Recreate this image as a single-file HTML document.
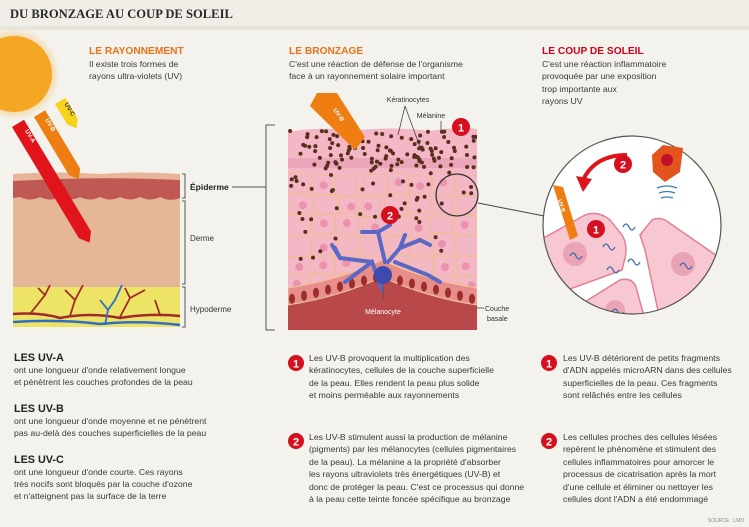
<!DOCTYPE html>
<html><head><meta charset="utf-8"><style>
body{margin:0;background:#f4f2ec;}
svg{display:block;font-family:"Liberation Sans",sans-serif;}
.h{font-weight:bold;font-size:10.2px;}
.t{font-size:8.7px;fill:#3a3a3a}
.b{font-weight:bold;font-size:10.8px;fill:#222}
.s{font-size:8px;fill:#333}
</style></head><body>
<svg id="s" width="749" height="527" viewBox="0 0 749 527" xmlns="http://www.w3.org/2000/svg">
<defs>
<radialGradient id="sun" cx="0.5" cy="0.5" r="0.5"><stop offset="0.7" stop-color="#f5a623"/><stop offset="1" stop-color="#f5a623" stop-opacity="0"/></radialGradient>
<clipPath id="cp"><rect x="288" y="120" width="189" height="210"/></clipPath>
<clipPath id="cc"><circle cx="632" cy="225" r="89"/></clipPath>
</defs>
<rect width="749" height="527" fill="#f4f2ec"/>
<rect width="749" height="28" fill="#f1eee7"/>
<rect y="26" width="749" height="4" fill="#e8e5dd"/>
<text x="10" y="18" font-family="Liberation Serif,serif" font-weight="bold" font-size="12.6" fill="#2a2a2a">DU BRONZAGE AU COUP DE SOLEIL</text>

<circle cx="14" cy="74" r="46" fill="url(#sun)" opacity="0.5"/>
<circle cx="14" cy="74" r="38" fill="#f5a623"/>

<text x="89" y="54" class="h" fill="#e8731a">LE RAYONNEMENT</text>
<text x="89" y="67" class="t">Il existe trois formes de</text>
<text x="89" y="79" class="t">rayons ultra-violets (UV)</text>

<rect x="13" y="285" width="167" height="42" fill="#ede365"/>
<rect x="13" y="195" width="167" height="92" fill="#e6b796"/>
<path d="M13 178 L180 178 L180 198 Q170 202 160 197 Q150 202 140 197 Q130 202 120 197 Q110 202 100 197 Q90 202 80 197 Q70 202 60 197 Q50 202 40 197 Q30 202 20 197 L13 198Z" fill="#c05853"/>
<path d="M13 174 Q60 171 100 174 Q140 171 180 174 L180 180 Q100 176 13 181Z" fill="#e9b59a"/>
<path d="M13 314 Q40 312 60 318 Q90 312 120 318 Q150 313 180 316" stroke="#a02a2a" stroke-width="2.5" fill="none"/>
<path d="M13 322 Q60 319 100 324 Q140 320 180 325" stroke="#2e6fc4" stroke-width="2.5" fill="none"/>
<path d="M30 314 L45 295 L50 285 M45 295 L38 288 M70 316 L75 300 L65 290 M75 300 L83 285 M120 317 L130 298 L145 290 M130 298 L125 288 M160 315 L155 300" stroke="#a02a2a" stroke-width="1.8" fill="none"/>
<path d="M105 325 L108 310 L115 300 L122 285 M108 310 L100 300" stroke="#2e6fc4" stroke-width="1.8" fill="none"/>
<g transform="translate(12,127) rotate(-31)"><path d="M0 0 L14 0 L14 130 L7 139 L0 130Z" fill="#e1141b"/><text x="9" y="10" transform="rotate(90 9 10)" font-size="6" font-weight="bold" fill="#fff">UV-A</text></g>
<g transform="translate(34,117) rotate(-31)"><path d="M0 0 L13 0 L13 68 L6.5 76 L0 68Z" fill="#ee7d12"/><text x="8" y="8" transform="rotate(90 8 8)" font-size="6" font-weight="bold" fill="#fff">UV-B</text></g>
<g transform="translate(55,104) rotate(-31)"><path d="M0 0 L12 0 L12 24 L6 32 L0 24Z" fill="#f7d21d"/><text x="8" y="5" transform="rotate(90 8 5)" font-size="6" font-weight="bold" fill="#333">UV-C</text></g>
<g stroke="#555" stroke-width="1" fill="none">
<path d="M182 174 L185 174 L185 198 L182 198"/>
<path d="M182 201 L185 201 L185 284 L182 284"/>
<path d="M182 287 L185 287 L185 327 L182 327"/>
<path d="M232 187 L266 187"/>
<path d="M275 125 L266 125 L266 330 L275 330"/>
</g>
<text x="190" y="190" font-size="8.5" font-weight="bold" fill="#222">Épiderme</text>
<text x="190" y="241" class="s">Derme</text>
<text x="190" y="312" class="s">Hypoderme</text>

<text x="289" y="54" class="h" fill="#e8731a">LE BRONZAGE</text>
<text x="289" y="67" class="t">C'est une réaction de défense de l'organisme</text>
<text x="289" y="79" class="t">face à un rayonnement solaire important</text>
<g clip-path="url(#cp)">
<path d="M288 132 Q320 126 350 131 Q390 126 430 131 Q460 126 477 129 L477 330 L288 330Z" fill="#f3b7c5"/>
<rect x="288" y="158" width="189" height="10" fill="#e79bb0" opacity="0.6"/>
<g id="cells" stroke="#eebd8f" stroke-width="0.8" fill="none"></g>
<g id="dots"></g>
<path d="M288 300 Q340 292 382 272 Q425 292 477 300 L477 330 L288 330Z" fill="#b8484a"/>
<path d="M288 288 Q340 280 382 260 Q425 280 477 288 L477 305 Q425 297 382 277 Q340 297 288 305Z" fill="#e78d8a" stroke="#f3c39a" stroke-width="1"/>
<g id="basal"></g>
<path d="M382 290 L372 262 L345 282 M372 262 L340 258 L332 245 M340 258 L335 248 M385 262 L378 232 L390 225 L392 215 M378 232 L362 232 M388 262 L400 248 L420 240 L430 245 M400 248 L405 235 M395 262 L428 275 L440 282" stroke="#5b67c4" stroke-width="4" fill="none" stroke-linecap="round"/>
<circle cx="383" cy="275" r="9" fill="#3d4bb0"/>
<line x1="383" y1="284" x2="383" y2="300" stroke="#555" stroke-width="0.8"/>
</g>
<path d="M317 93 L337 93 L365 137 L355 150 L310 106Z" fill="#ee7d12"/>
<text x="333" y="110" font-size="6" font-weight="bold" fill="#fff" transform="rotate(55 333 110)">UV-B</text>
<text x="408" y="102" font-size="7" fill="#333" text-anchor="middle">Kératinocytes</text>
<text x="431" y="118" font-size="7" fill="#333" text-anchor="middle">Mélanine</text>
<path d="M405 106 L398 135 M405 106 L420 147 M441 121 L441 132" stroke="#333" stroke-width="0.7" fill="none"/>
<circle cx="461" cy="127" r="9" fill="#d60f1f"/><text x="461" y="131.5" font-size="11" font-weight="bold" fill="#fff" text-anchor="middle">1</text>
<circle cx="390" cy="215" r="9" fill="#d60f1f"/><text x="390" y="219.5" font-size="11" font-weight="bold" fill="#fff" text-anchor="middle">2</text>
<text x="383" y="314" font-size="7" fill="#fff" text-anchor="middle">Mélanocyte</text>
<text x="485" y="311" font-size="7" fill="#333">Couche</text>
<text x="487" y="321" font-size="7" fill="#333">basale</text>
<line x1="477" y1="308" x2="484" y2="308" stroke="#333" stroke-width="0.7"/>
<circle cx="457" cy="195" r="21" fill="none" stroke="#333" stroke-width="1.3"/>
<line x1="478" y1="203" x2="544" y2="216" stroke="#444" stroke-width="1"/>

<text x="542" y="54" class="h" fill="#d0021b">LE COUP DE SOLEIL</text>
<text x="542" y="67" class="t">C'est une réaction inflammatoire</text>
<text x="542" y="79" class="t">provoquée par une exposition</text>
<text x="542" y="92" class="t">trop importante aux</text>
<text x="542" y="104" class="t">rayons UV</text>
<circle cx="632" cy="225" r="89" fill="#fff"/>
<g clip-path="url(#cc)">
<path d="M540 240 L585 215 Q598 210 610 220 L622 235 Q628 245 625 258 L622 270 L540 300Z" fill="#f7c8d1" stroke="#e57f92" stroke-width="1.5"/>
<path d="M640 235 L652 220 Q660 216 668 222 L720 258 L725 320 L660 320 L645 250Z" fill="#f7c8d1" stroke="#e57f92" stroke-width="1.5"/>
<path d="M580 305 L620 280 Q632 277 636 287 L645 320 L580 320Z" fill="#f7c8d1" stroke="#e57f92" stroke-width="1.5"/>
<circle cx="575" cy="254" r="12" fill="#eaa3b4"/>
<circle cx="683" cy="264" r="12" fill="#eaa3b4"/>
<circle cx="615" cy="310" r="10" fill="#eaa3b4"/>
<g stroke="#3b6cb0" stroke-width="1.3" fill="none">
<path d="M570 256 q3 -6 6 0 q3 6 6 0"/><path d="M603 247 q3 -6 6 0 q3 6 6 0"/><path d="M623 227 q3 -6 6 0 q3 6 6 0"/><path d="M628 262 q3 -6 6 0 q3 6 6 0"/><path d="M607 270 q3 -6 6 0 q3 6 6 0"/><path d="M680 266 q3 -6 6 0 q3 6 6 0"/><path d="M612 312 q3 -6 6 0 q3 6 6 0"/>
</g>
</g>
<circle cx="632" cy="225" r="89" fill="none" stroke="#555" stroke-width="1.2"/>
<path d="M553 185 L563 187 L578 236 L570 240Z" fill="#ee7d12"/>
<text x="558" y="200" font-size="5.5" font-weight="bold" fill="#fff" transform="rotate(72 558 200)">UV-B</text>
<path d="M627 155 Q595 155 583 180" stroke="#e0141b" stroke-width="4" fill="none"/>
<path d="M576 176 L583 192 L592 179Z" fill="#e0141b"/>
<path d="M663 145 L683 148 L680 172 L665 182 L653 172 L652 155Z" fill="#e2541c"/>
<circle cx="667" cy="160" r="6" fill="#c4102a"/>
<g stroke="#3b7fae" stroke-width="1.3" fill="none"><path d="M657 188 Q667 184 677 188"/><path d="M659 193 Q667 190 675 193"/><path d="M661 198 Q667 196 673 198"/></g>
<circle cx="623" cy="164" r="9" fill="#d60f1f"/><text x="623" y="168.5" font-size="11" font-weight="bold" fill="#fff" text-anchor="middle">2</text>
<circle cx="596" cy="229" r="9" fill="#d60f1f"/><text x="596" y="233.5" font-size="11" font-weight="bold" fill="#fff" text-anchor="middle">1</text>

<text x="14" y="361" class="b">LES UV-A</text>
<text x="14" y="373" class="t">ont une longueur d'onde relativement longue</text>
<text x="14" y="385" class="t">et pénètrent les couches profondes de la peau</text>
<text x="14" y="412" class="b">LES UV-B</text>
<text x="14" y="424" class="t">ont une longueur d'onde moyenne et ne pénètrent</text>
<text x="14" y="436" class="t">pas au-delà des couches superficielles de la peau</text>
<text x="14" y="463" class="b">LES UV-C</text>
<text x="14" y="475" class="t">ont une longueur d'onde courte. Ces rayons</text>
<text x="14" y="487" class="t">très nocifs sont bloqués par la couche d'ozone</text>
<text x="14" y="499" class="t">et n'atteignent pas la surface de la terre</text>

<circle cx="296" cy="363" r="8" fill="#d60f1f"/><text x="296" y="367.5" font-size="11" font-weight="bold" fill="#fff" text-anchor="middle">1</text>
<text x="309" y="361" class="t">Les UV-B provoquent la multiplication des</text>
<text x="309" y="373" class="t">kératinocytes, cellules de la couche superficielle</text>
<text x="309" y="386" class="t">de la peau. Elles rendent la peau plus solide</text>
<text x="309" y="398" class="t">et moins perméable aux rayonnements</text>
<circle cx="296" cy="441" r="8" fill="#d60f1f"/><text x="296" y="445.5" font-size="11" font-weight="bold" fill="#fff" text-anchor="middle">2</text>
<text x="309" y="440" class="t">Les UV-B stimulent aussi la production de mélanine</text>
<text x="309" y="452" class="t">(pigments) par les mélanocytes (cellules pigmentaires</text>
<text x="309" y="465" class="t">de la peau). La mélanine a la propriété d'absorber</text>
<text x="309" y="477" class="t">les rayons ultraviolets très énergétiques (UV-B) et</text>
<text x="309" y="490" class="t">donc de protéger la peau. C'est ce processus qui donne</text>
<text x="309" y="502" class="t">à la peau cette teinte foncée spécifique au bronzage</text>

<circle cx="549" cy="363" r="8" fill="#d60f1f"/><text x="549" y="367.5" font-size="11" font-weight="bold" fill="#fff" text-anchor="middle">1</text>
<text x="563" y="361" class="t">Les UV-B détériorent de petits fragments</text>
<text x="563" y="373" class="t">d'ADN appelés microARN dans des cellules</text>
<text x="563" y="386" class="t">superficielles de la peau. Ces fragments</text>
<text x="563" y="398" class="t">sont relâchés entre les cellules</text>
<circle cx="549" cy="441" r="8" fill="#d60f1f"/><text x="549" y="445.5" font-size="11" font-weight="bold" fill="#fff" text-anchor="middle">2</text>
<text x="563" y="440" class="t">Les cellules proches des cellules lésées</text>
<text x="563" y="452" class="t">repèrent le phénomène et stimulent des</text>
<text x="563" y="465" class="t">cellules inflammatoires pour amorcer le</text>
<text x="563" y="477" class="t">processus de cicatrisation après la mort</text>
<text x="563" y="490" class="t">d'une cellule et éliminer ou nettoyer les</text>
<text x="563" y="502" class="t">cellules dont l'ADN a été endommagé</text>
<text x="744" y="522" font-size="5" fill="#888" text-anchor="end">SOURCE : LMD</text>
</svg>
<script>
(function(){
var ns="http://www.w3.org/2000/svg",s=1;function r(){s=(s*16807)%2147483647;return s/2147483647;}
function el(g,n,a){var e=document.createElementNS(ns,n);for(var k in a)e.setAttribute(k,a[k]);document.getElementById(g).appendChild(e);}
for(var y=175;y<300;y+=20)for(var x=288;x<480;x+=24){var ox=x+(r()-0.5)*8,oy=y+(r()-0.5)*6;el("cells","rect",{x:ox,y:oy,width:24,height:20,rx:3});if(r()<0.5)el("dots","circle",{cx:ox+12,cy:oy+10,r:4,fill:"#eb93ad"});}
for(var i=0;i<110;i++){var x=290+r()*186,y=131+r()*38;el("dots","circle",{cx:x,cy:y,r:2,fill:"#5a2e1c"});}
for(var i=0;i<60;i++){var x=290+r()*186,y=170+r()*90;if(Math.abs(x-383)<45&&y>225)continue;el("dots","circle",{cx:x,cy:y,r:2,fill:"#5a2e1c"});}
for(var x=292;x<477;x+=12){var cy=296-Math.max(0,1-Math.abs(x-382)/95)*24+4;el("basal","ellipse",{cx:x,cy:cy,rx:3,ry:5,fill:"#9b2d2d"});}
})();
</script>
</body></html>
